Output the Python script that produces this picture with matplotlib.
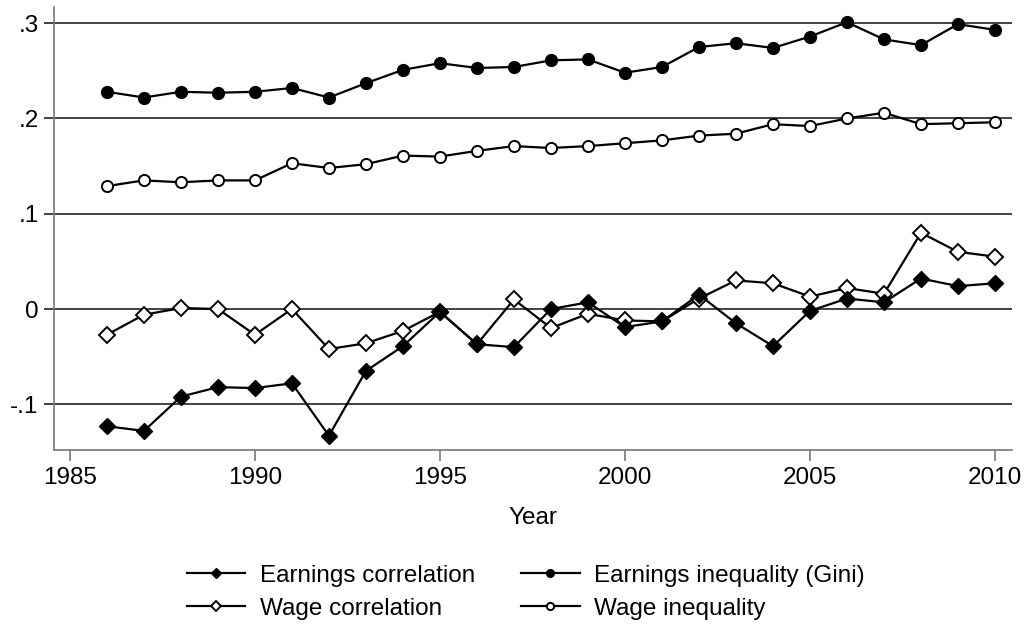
import numpy as np
import matplotlib
import matplotlib.pyplot as plt
from matplotlib.ticker import FixedLocator, FixedFormatter

matplotlib.use('agg')
plt.rcParams.update({"font.family": ["Liberation Sans", "DejaVu Sans"], "font.size": 17.5})

years = np.arange(1986, 2011)

earnings_gini = [0.228, 0.222, 0.228, 0.227, 0.228, 0.232, 0.222, 0.237, 0.251, 0.258,
                 0.253, 0.254, 0.261, 0.262, 0.248, 0.254, 0.275, 0.279, 0.274, 0.286,
                 0.301, 0.283, 0.277, 0.299, 0.293]
wage_ineq = [0.129, 0.135, 0.133, 0.135, 0.135, 0.153, 0.148, 0.152, 0.161, 0.160,
             0.166, 0.171, 0.169, 0.171, 0.174, 0.177, 0.182, 0.184, 0.194, 0.192,
             0.200, 0.206, 0.194, 0.195, 0.196]
wage_corr = [-0.027, -0.006, 0.001, 0.000, -0.027, 0.000, -0.042, -0.036, -0.023, -0.003,
             -0.037, 0.010, -0.020, -0.005, -0.012, -0.013, 0.011, 0.030, 0.027, 0.013,
             0.022, 0.016, 0.080, 0.060, 0.055]
earnings_corr = [-0.123, -0.128, -0.092, -0.082, -0.083, -0.078, -0.133, -0.065, -0.039, -0.003,
                 -0.037, -0.040, 0.000, 0.007, -0.019, -0.013, 0.015, -0.015, -0.039, -0.002,
                 0.011, 0.007, 0.032, 0.024, 0.027]

x_ticks = [1985, 1990, 1995, 2000, 2005, 2010]
y_ticks = [-0.1, 0, 0.1, 0.2, 0.3]
y_tick_labels = ["-.1", "0", ".1", ".2", ".3"]

fig = plt.figure(figsize=(10.27, 6.26), dpi=100)
ax = fig.add_axes([54 / 1027, 176 / 626, 958 / 1027, 443 / 626])

line_kw = dict(color="black", linewidth=1.6, markeredgecolor="black")
h_wc, = ax.plot(years, wage_corr, marker="D", markersize=8.5, markerfacecolor="white",
                markeredgewidth=1.4, label="Wage correlation", **line_kw)
h_ec, = ax.plot(years, earnings_corr, marker="D", markersize=8.5, markerfacecolor="black",
                label="Earnings correlation", **line_kw)
h_eg, = ax.plot(years, earnings_gini, marker="o", markersize=8.5, markerfacecolor="black",
                label="Earnings inequality (Gini)", **line_kw)
h_wi, = ax.plot(years, wage_ineq, marker="o", markersize=8, markerfacecolor="white",
                markeredgewidth=1.4, label="Wage inequality", **line_kw)

ax.set_xlim(1984.57, 2010.46)
ax.set_ylim(-0.148, 0.317)

ax.xaxis.set_major_locator(FixedLocator(x_ticks))
ax.yaxis.set_major_locator(FixedLocator(y_ticks))
ax.yaxis.set_major_formatter(FixedFormatter(y_tick_labels))

ax.grid(axis="y", color="#222222", linewidth=1.2)
ax.set_axisbelow(True)
for side in ["top", "right"]:
    ax.spines[side].set_visible(False)
for side in ["left", "bottom"]:
    ax.spines[side].set_color("#777777")
    ax.spines[side].set_linewidth(1.2)

ax.tick_params(axis="y", direction="out", length=7, width=1.2, color="#222222", pad=4,
               labelsize=17.5)
ax.tick_params(axis="x", direction="out", length=8, width=1.2, color="#777777", pad=4,
               labelsize=17.5)

ax.set_xlabel("Year", fontsize=17.5, labelpad=13)

fig.legend(handles=[h_ec, h_wc, h_eg, h_wi], loc="center", bbox_to_anchor=(0.512, 0.054),
           ncol=2, frameon=False, fontsize=17.5, markerscale=0.65, handlelength=2.4,
           handletextpad=0.6, columnspacing=1.9, labelspacing=0.45)

fig.savefig("out.png", dpi=100)
